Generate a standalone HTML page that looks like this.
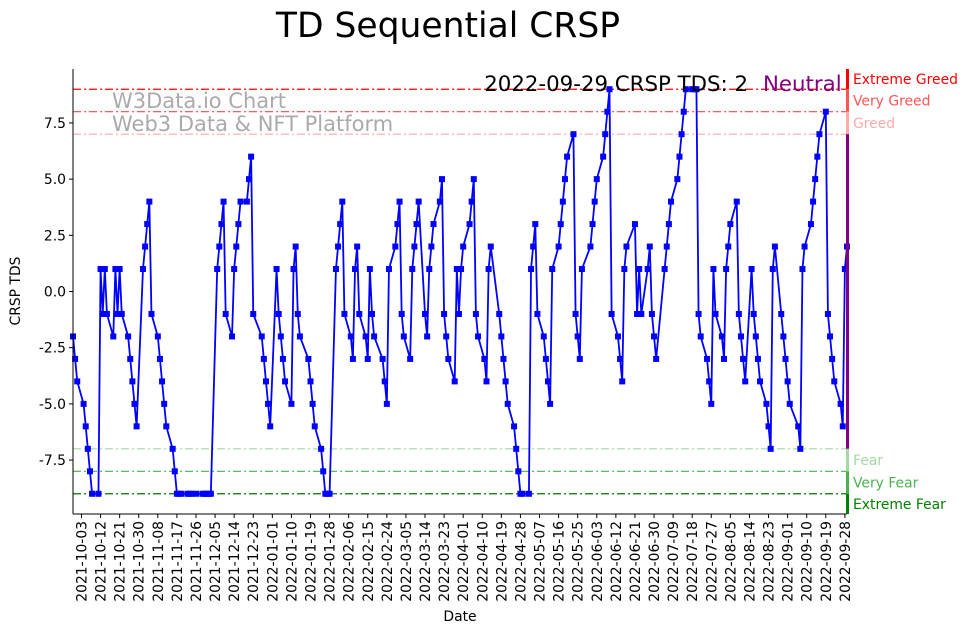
<!DOCTYPE html>
<html><head><meta charset="utf-8"><style>
html,body{margin:0;padding:0;background:#fff;}
svg{display:block;font-family:"DejaVu Sans","Liberation Sans",sans-serif;}
</style></head><body>
<svg id="chart" width="967" height="633" viewBox="0 0 967 633" xmlns="http://www.w3.org/2000/svg">
<text x="448" y="37" font-size="34.5" text-anchor="middle" fill="#000">TD Sequential CRSP</text>
<g id="grid-lines"></g>
<g id="watermark">
<text x="112" y="108" font-size="21" fill="#aaaaaa">W3Data.io Chart</text>
<text x="112" y="131" font-size="21" fill="#aaaaaa">Web3 Data &amp; NFT Platform</text>
</g>
<g id="series"></g>
<g id="axes"></g>
<text x="748" y="91" font-size="21.3" text-anchor="end" fill="#000">2022-09-29 CRSP TDS: 2</text>
<text x="763" y="91" font-size="21.3" fill="#800080">Neutral</text>
<text transform="translate(20,291) rotate(-90)" font-size="13.9" text-anchor="middle">CRSP TDS</text>
<text x="460" y="621" font-size="13.9" text-anchor="middle">Date</text>
</svg>
<script>
const startDate = "2021-09-29";
const endDate = "2022-09-29";
const holidays = ["2021-11-25","2021-12-24","2022-01-17","2022-02-21","2022-04-15","2022-05-30","2022-06-20","2022-07-04","2022-09-05"];
const tdsValues = [
-2,-3,
-4,-5,-6,-7,-8,-9,-9,1,-1,1,-1,-2,1,-1,1,-1,-2,-3,-4,-5,-6,
1,2,3,4,-1,-2,-3,-4,-5,-6,-7,-8,-9,-9,-9,-9,-9,-9,-9,-9,-9,
-9,-9,-9,1,2,3,4,-1,-2,1,2,3,4,4,5,6,-1,-2,-3,-4,-5,-6,
1,-1,-2,-3,-4,-5,1,2,-1,-2,-3,-4,-5,-6,-7,-8,-9,-9,-9,1,
2,3,4,-1,-2,-3,1,2,-1,-2,-3,1,-1,-2,-3,-4,-5,1,2,
3,4,-1,-2,-3,1,2,3,4,-1,-2,1,2,3,4,5,-1,-2,-3,-4,1,-1,1,
2,3,4,5,-1,-2,-3,-4,1,2,-1,-2,-3,-4,-5,-6,-7,-8,-9,-9,
-9,1,2,3,-1,-2,-3,-4,-5,1,2,3,4,5,6,7,-1,-2,-3,1,2,
3,4,5,6,7,8,9,-1,-2,-3,-4,1,2,3,-1,1,-1,1,2,-1,-2,
-3,1,2,3,4,5,6,7,8,9,9,9,9,-1,-2,-3,-4,-5,1,-1,
-2,-3,1,2,3,4,-1,-2,-3,-4,1,-1,-2,-3,-4,-5,-6,-7,1,2,-1,-2,-3,
-4,-5,-6,-7,1,2,3,4,5,6,7,8,-1,-2,-3,-4,-5,-6,1,2
];
const yTicks = [-7.5,-5.0,-2.5,0.0,2.5,5.0,7.5];
const levelValues = [9,8,7,-7,-8,-9];
const levelNames = ["Extreme Greed","Very Greed","Greed","Fear","Very Fear","Extreme Fear"];
const levelColors = ["#ff0000","#ff4444","#ffaaaa","#a3d9a3","#4caf50","#007a00"];

const NS="http://www.w3.org/2000/svg";
const L=73,R=847,T=69,B=514,YMIN=-9.9,YMAX=9.9;
const DAY=86400000;
const t0=Date.parse(startDate+"T00:00:00Z"), t1=Date.parse(endDate+"T00:00:00Z");
function xScale(t){return L+(t-t0)/(t1-t0)*(R-L);}
function yScale(v){return B-(v-YMIN)/(YMAX-YMIN)*(B-T);}
function mk(tag,attrs,parent){const e=document.createElementNS(NS,tag);for(const k in attrs)e.setAttribute(k,attrs[k]);parent.appendChild(e);return e;}
function iso(t){return new Date(t).toISOString().slice(0,10);}

const dates=[];
for(let t=t0;t<=t1;t+=DAY){const wd=new Date(t).getUTCDay();if(wd===0||wd===6)continue;if(holidays.includes(iso(t)))continue;dates.push(t);}

const gl=document.getElementById('grid-lines');
levelValues.forEach((v,i)=>{
  const ln=mk('line',{x1:L,x2:R,y1:yScale(v),y2:yScale(v),stroke:levelColors[i],'stroke-width':1.2,'stroke-dasharray':'8,3,2,3'},gl);
  
  
});

const sg=document.getElementById('series');
const n=Math.min(dates.length,tdsValues.length);
let d='';
for(let i=0;i<n;i++){d+=(i?'L':'M')+xScale(dates[i]).toFixed(2)+','+yScale(tdsValues[i]).toFixed(2);}
const path=mk('path',{d:d,fill:'none',stroke:'#0000ff','stroke-width':1.8,'stroke-linejoin':'round'},sg);


for(let i=0;i<n;i++){
  const r=mk('rect',{x:xScale(dates[i])-3,y:yScale(tdsValues[i])-3,width:6,height:6,fill:'#0000ff'},sg);
  
  
}

const ax=document.getElementById('axes');
const ls=mk('line',{x1:L,x2:L,y1:T,y2:B,stroke:'#000','stroke-width':1},ax);


const bs=mk('line',{x1:L,x2:R,y1:B,y2:B,stroke:'#000','stroke-width':1},ax);


yTicks.forEach(v=>{
  const y=yScale(v);
  const tk=mk('line',{x1:L-4,x2:L,y1:y,y2:y,stroke:'#000'},ax);
  
  
  const tx=mk('text',{x:L-7,y:y+5,'font-size':13.9,'text-anchor':'end'},ax);
  tx.textContent=v.toFixed(1);
  
  
});
const firstTick=Date.parse("2021-10-03T00:00:00Z");
for(let t=firstTick;t<=t1;t+=9*DAY){
  const x=xScale(t);
  const tk=mk('line',{x1:x,x2:x,y1:B,y2:B+4,stroke:'#000'},ax);
  
  
  const tx=mk('text',{transform:'translate('+(x+5)+','+(B+7)+') rotate(-90)','font-size':13.9,'text-anchor':'end'},ax);
  tx.textContent=iso(t);
  
  
}
const bands=[[9.9,9,'#ff0000'],[9,8,'#ff5555'],[8,7,'#ffaaaa'],[7,-7,'#800080'],[-7,-8,'#a3d9a3'],[-8,-9,'#4caf50'],[-9,-9.9,'#008000']];
bands.forEach(b=>{
  const r=mk('rect',{x:R-1,y:yScale(b[0]),width:3,height:yScale(b[1])-yScale(b[0]),fill:b[2]},ax);
  
  
});
const labelY=[9.45,8.5,7.5,-7.5,-8.5,-9.45];
const labelColors=["#ff0000","#ff5555","#ffaaaa","#a3d9a3","#4caf50","#008000"];
levelNames.forEach((nm,i)=>{
  const tx=mk('text',{x:853,y:yScale(labelY[i])+5,'font-size':13.9,fill:labelColors[i]},ax);
  tx.textContent=nm;
  
  
});
</script>
</body></html>
